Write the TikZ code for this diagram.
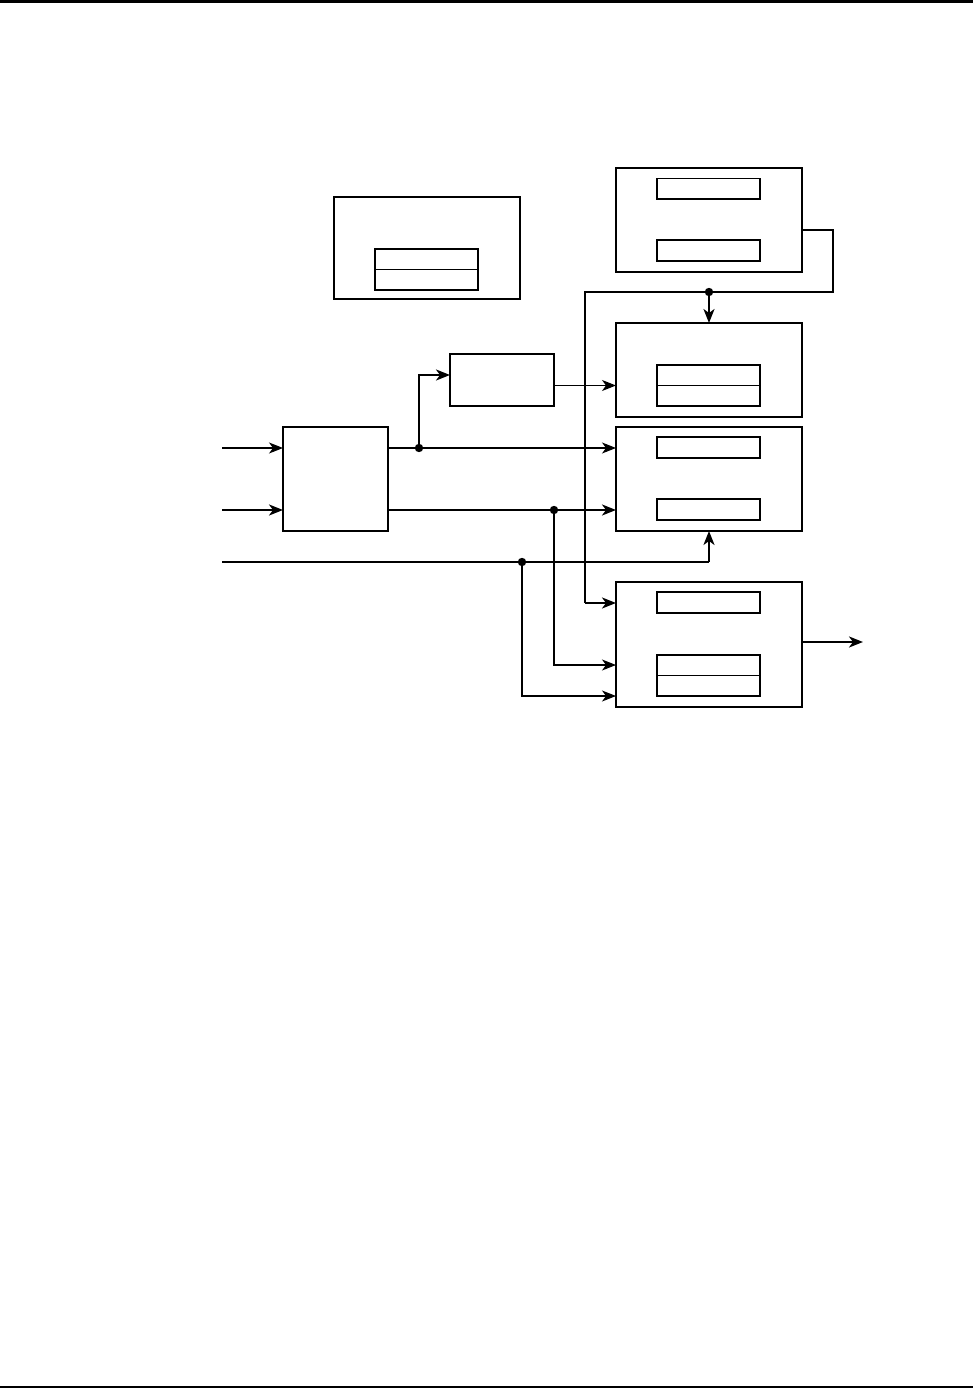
\documentclass[tikz,border=0pt]{standalone}
\usepackage{tikz}
\usetikzlibrary{arrows.meta, positioning, calc}
\tikzset{block/.style={draw, line width=1.1pt, inner sep=0pt, outer sep=0pt, minimum width=93pt},
    subblock/.style={draw, line width=0.8pt, inner sep=0pt, outer sep=0pt,
        minimum width=51.5pt, minimum height=10.3pt},
    link/.style={draw, line width=0.55pt},
    bus/.style={draw, line width=1.05pt},
    junction/.style={circle, fill=black, minimum size=4.2pt, inner sep=0pt}}

\begin{document}
\begin{tikzpicture}[x=0.5pt, y=-0.5pt, >={Stealth[length=7pt, width=5.5pt, inset=2pt]}]
  \useasboundingbox (0,0) rectangle (973,1390);

  % page rules
  \draw[line width=1.1pt] (0,1.5) -- (973,1.5);
  \draw[line width=1.4pt] (0,1387) -- (973,1387);

  % Blocks
  \node[block, minimum height=51pt] (mem) at (427,248) {};
  \node[subblock, minimum height=20.5pt] (memreg) at (426.5,269.5) {};
  \node[block, minimum width=52pt, minimum height=26pt] (filt) at (502,380) {};
  \node[block, minimum width=52.5pt, minimum height=52pt] (proc) at (335.5,479) {};

  \node[block, minimum height=52pt] (ctrl) at (709,220) {};
  \node[subblock] (ctrla) at (708.5,189) {};
  \node[subblock] (ctrlb) at (708.5,250.5) {};

  \node[block, minimum height=47pt] (acc) at (709,370) {};
  \node[subblock, minimum height=20.5pt] (accreg) at (708.5,385.5) {};

  \node[block, minimum height=52pt] (cmp) at (709,479) {};
  \node[subblock] (cmpa) at (708.5,447.5) {};
  \node[subblock] (cmpb) at (708.5,509.5) {};

  \node[block, minimum height=62.5pt] (out) at (709,644.5) {};
  \node[subblock] (outa) at (708.5,602.5) {};
  \node[subblock, minimum height=20.5pt] (outreg) at (708.5,675.5) {};

  % split lines in the double registers
  \draw[line width=0.8pt] (memreg.west) -- (memreg.east);
  \draw[link] (accreg.west) -- (accreg.east);
  \draw[link] (outreg.west) -- (outreg.east);

  % free ends and corners
  \coordinate (ina) at (222,448);
  \coordinate (inb) at (222,510);
  \coordinate (inc) at (222,562);
  \coordinate (up) at (419,375);
  \coordinate (fbr) at (833,230);
  \coordinate (fbb) at (833,292);
  \coordinate (fbl) at (585,292);
  \coordinate (fbo) at (585,603);
  \coordinate (res) at (863,642);

  % Junctions
  \node[junction] (ja) at (419,448) {};
  \node[junction] (jb) at (554,510) {};
  \node[junction] (jc) at (522,562) {};
  \node[junction] (jd) at (709,292) {};

  % Inputs
  \draw[link, ->] (ina) -- (proc.west |- ina);
  \draw[bus, ->] (inb) -- (proc.west |- inb);
  \draw[link] (inc) -- (jc.center) -- (cmp.south |- inc);
  \draw[bus, ->] (cmp.south |- inc) -- (cmp.south);

  % Processor outputs
  \draw[link] (proc.east |- ina) -- (ja.center);
  \draw[link, ->] (ja.center) -- (cmp.west |- ina);
  \draw[bus, ->] (ja.center) -- (up) -- (filt.west |- up);
  \draw[link, ->] (filt.east |- accreg) -- (acc.west |- accreg);
  \draw[bus] (proc.east |- inb) -- (jb.center);
  \draw[bus, ->] (jb.center) -- (cmp.west |- inb);
  \draw[link, ->] (jb.center) |- (out.west |- 0,665);
  \draw[link, ->] (jc.center) |- (out.west |- 0,696);

  % Feedback from control
  \draw[link] (ctrl.east |- fbr) -- (fbr) -- (fbb) -- (fbl) -- (fbo);
  \draw[bus, ->] (fbo) -- (out.west |- fbo);
  \draw[bus, ->] (jd.center) -- (acc.north);

  % Result
  \draw[bus, ->] (out.east |- res) -- (res);

\end{tikzpicture}
\end{document}
